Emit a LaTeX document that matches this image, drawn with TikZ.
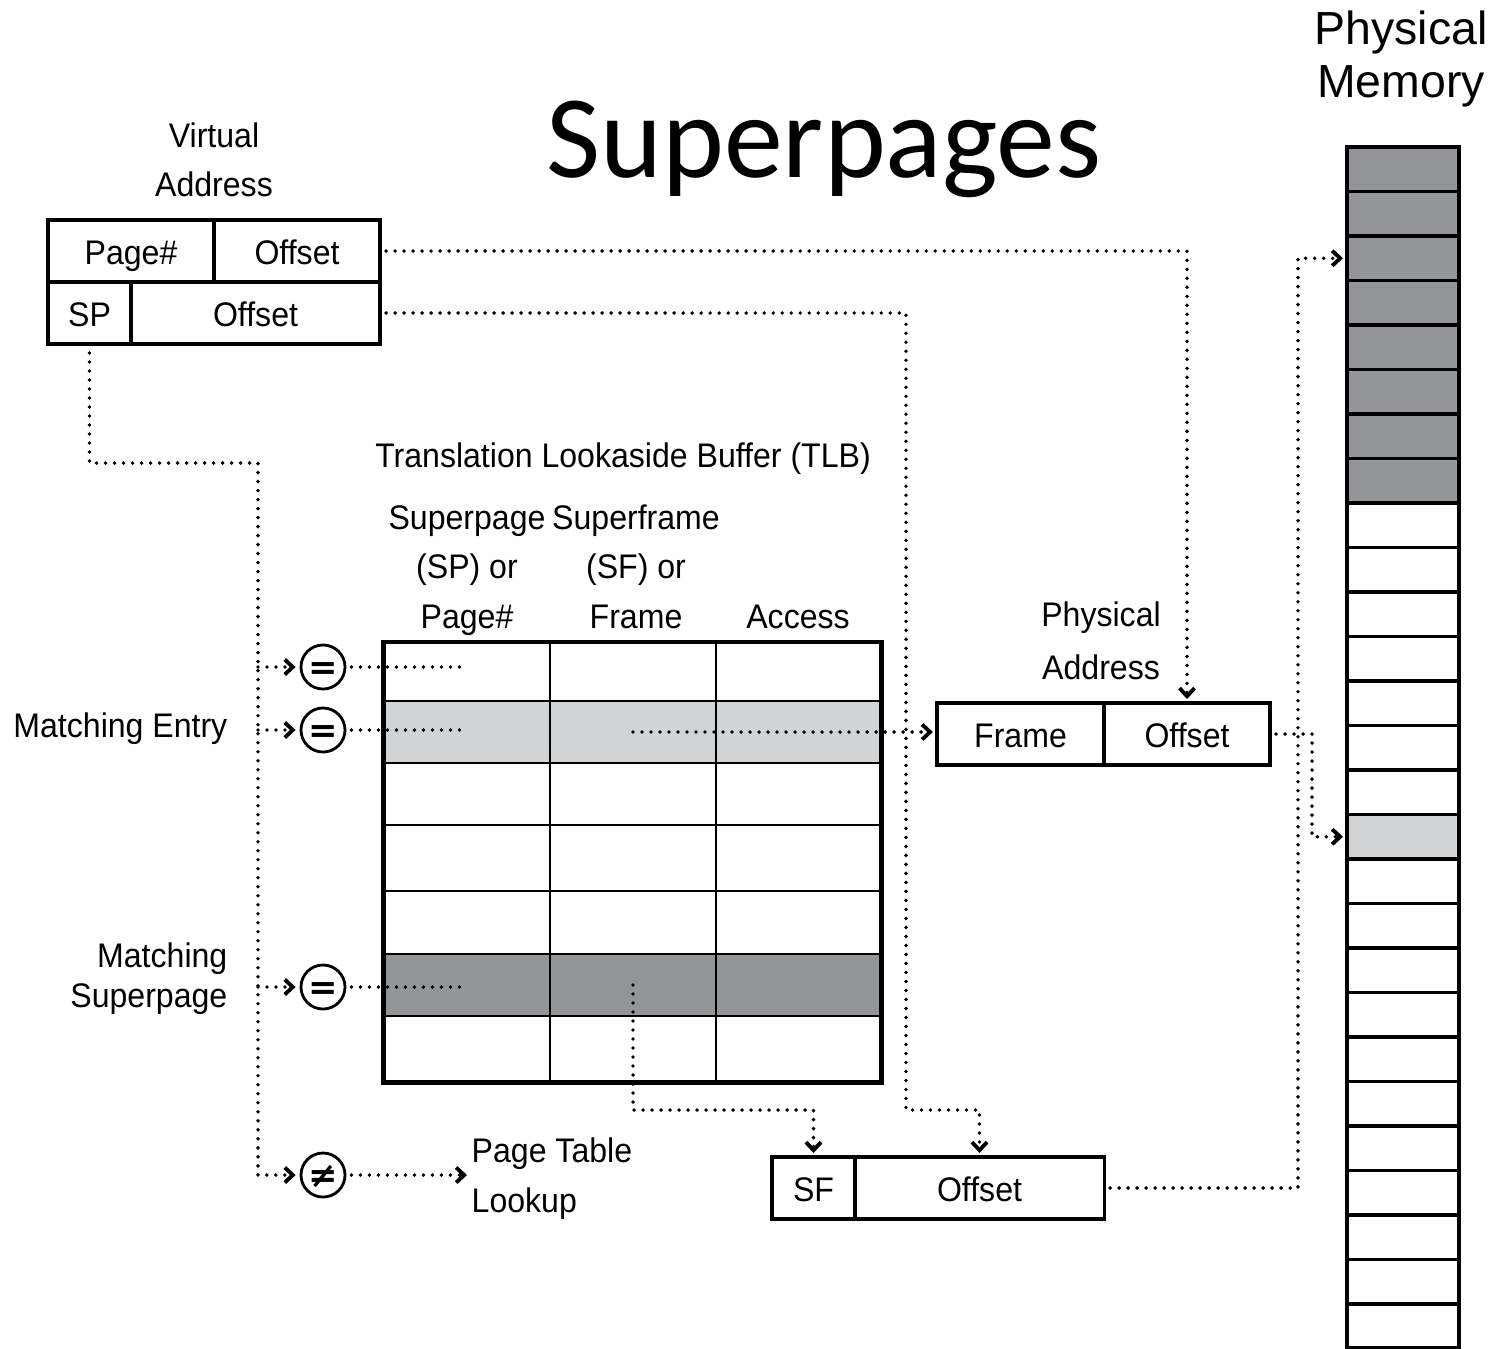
\documentclass[tikz,border=0pt]{standalone}
\usepackage{fontspec}
\setmainfont{Liberation Sans}
\newfontfamily\condfont[FakeStretch=0.94]{Liberation Sans}
\newfontfamily\titlefont{Carlito}
\newfontfamily\symfont{DejaVu Sans}
\usetikzlibrary{arrows.meta,calc}
\definecolor{rowdark}{RGB}{147,149,153}
\definecolor{rowlight}{RGB}{209,211,212}
\tikzset{
  lbl/.style={font=\condfont\fontsize{9.7}{#1}\selectfont, inner sep=0pt, align=center},
  lbl/.default=14,
  cell/.style={draw, line width=0.9pt, inner sep=0pt, outer sep=0pt, minimum height=6.2mm,
    text height=2.9mm, text depth=0.3mm, font=\condfont\fontsize{9.7}{11}\selectfont},
  tlbcell/.style={draw, line width=0.7pt, inner sep=0pt, outer sep=0pt},
  memcell/.style={draw, line width=0.9pt, inner sep=0pt, outer sep=0pt, minimum width=11.2mm, minimum height=4.45mm},
  dotline/.style={line width=1.1pt, line cap=round, dash pattern=on 0pt off 2.56pt},
  tip/.style={-{Straight Barb[length=0.8mm,width=1.5mm,line width=1.1pt]}, shorten >=0.4mm},
  cmp/.style={circle, draw, line width=0.8pt, minimum size=4.4mm, inner sep=0pt,
    text height=2.4mm, text depth=0pt, font=\symfont\bfseries\fontsize{10}{10}\selectfont},
}

\begin{document}
\begin{tikzpicture}[x=0.01cm, y=-0.01cm]
  \useasboundingbox (0,0) rectangle (1495,1348);

  %%%%% LABELS %%%%%
  \node[font=\titlefont\fontsize{33.5}{40}\selectfont, anchor=base, inner sep=0pt] (title) at (824,177) {Superpages};
  \node[font=\fontsize{13.2}{14.8}\selectfont, align=center, anchor=base, inner sep=0pt] (memlbl) at (1401,97) {Physical\\Memory};

  \node[lbl=13.9, anchor=base] (valbl) at (214,196) {Virtual\\Address};
  \node[lbl, anchor=base] (tlblbl) at (623,467) {Translation Lookaside Buffer (TLB)};
  \node[lbl=14, anchor=base] (colA) at (467,628) {Superpage\\(SP) or\\Page\#};
  \node[lbl=14, anchor=base] (colB) at (636,628) {Superframe\\(SF) or\\Frame};
  \node[lbl, anchor=base] (colC) at (798,628) {Access};
  \node[lbl=14.8, anchor=base] (palbl) at (1101,679) {Physical\\Address};
  \node[lbl, anchor=base east, align=right] (mEntry) at (228,737) {Matching Entry};
  \node[lbl=11.1, anchor=base east, align=right] (mSuper) at (228,1007) {Matching\\Superpage};
  \node[lbl=14.2, anchor=base west, align=left] (ptl) at (471,1212) {Page Table\\Lookup};

  %%%%% ADDRESS BOXES %%%%%
  \node[cell, minimum width=16.6mm] (vaPage) at (131,251) {Page\#};
  \node[cell, minimum width=16.6mm] (vaOffA) at (297,251) {Offset};
  \node[cell, minimum width=8.3mm] (vaSP) at (89.5,313) {SP};
  \node[cell, minimum width=24.9mm] (vaOffB) at (255.5,313) {Offset};

  \node[cell, minimum width=16.7mm] (paFrame) at (1020.5,734) {Frame};
  \node[cell, minimum width=16.6mm] (paOff) at (1187,734) {Offset};

  \node[cell, minimum width=8.3mm] (sfSF) at (813.5,1188) {SF};
  \node[cell, minimum width=24.9mm] (sfOff) at (979.5,1188) {Offset};

  %%%%% TLB %%%%%
  \foreach \r/\ya/\yb/\col in {1/642/701/white, 2/701/763/rowlight, 3/763/825/white, 4/825/891/white,
      5/891/954/white, 6/954/1016/rowdark, 7/1016/1082/white}
    \foreach \c/\xa/\xb in {1/384/550, 2/550/716, 3/716/881}
      \node[tlbcell, fill=\col, minimum width={(\xb-\xa)*0.1mm}, minimum height={(\yb-\ya)*0.1mm}]
        (tlb-\r-\c) at ({(\xa+\xb)/2},{(\ya+\yb)/2}) {};
  \draw[line width=1.4pt] (tlb-1-1.north west) rectangle (tlb-7-3.south east);

  %%%%% PHYSICAL MEMORY %%%%%
  \foreach \k in {0,...,26} {
    \def\memcol{white}
    \ifnum\k<8 \def\memcol{rowdark}\fi
    \ifnum\k=15 \def\memcol{rowlight}\fi
    \node[memcell, fill=\memcol] (mem-\k) at (1403,{169.25+44.5*\k}) {};
  }
  \draw[line width=1.3pt] (mem-0.north west) rectangle (mem-26.south east);

  %%%%% COMPARATORS %%%%%
  \node[cmp] (eqA) at (323,667) {=};
  \node[cmp] (eqB) at (323,730) {=};
  \node[cmp] (eqC) at (323,987) {=};
  \node[cmp] (neq) at (323,1175) {≠};

  %%%%% CONNECTORS %%%%%
  \coordinate (spine) at (258,463);
  \coordinate (bendA) at (906,1110);
  \coordinate (busY) at (0,1110);
  \coordinate (riserA) at (1312,0);
  \coordinate (riserB) at (1298,0);

  \draw[dotline, tip] (vaSP.south) |- (spine) |- (neq.west);
  \foreach \n in {eqA,eqB,eqC}
    \draw[dotline, tip] (spine |- \n.west) -- (\n.west);

  \draw[dotline, shorten <=0.5mm] (eqA.east) -- (eqA.east -| tlb-1-1.center);
  \draw[dotline, shorten <=0.5mm] (eqB.east) -- (eqB.east -| tlb-2-1.center);
  \draw[dotline, shorten <=0.5mm] (eqC.east) -- (eqC.east -| tlb-6-1.center);
  \draw[dotline, tip, shorten <=0.5mm] (neq.east) -- (ptl.west |- neq.east);

  \draw[dotline, tip, shorten <=0.6mm] (vaOffA.east) -| (paOff.north);
  \draw[dotline, tip, shorten <=0.6mm] (vaOffB.east) -| (bendA) -| (sfOff.north);
  \draw[dotline, tip] (tlb-6-2.center) |- (busY -| sfSF.north) -- (sfSF.north);
  \draw[dotline, tip] (tlb-2-2.center) -- (tlb-2-2.center -| paFrame.west);
  \draw[dotline, tip, shorten <=0.6mm] (paOff.east) -| (riserA |- mem-15.west) -- (mem-15.west);
  \draw[dotline, tip, shorten <=0.6mm] (sfOff.east) -| (riserB |- mem-2.west) -- (mem-2.west);
\end{tikzpicture}
\end{document}
